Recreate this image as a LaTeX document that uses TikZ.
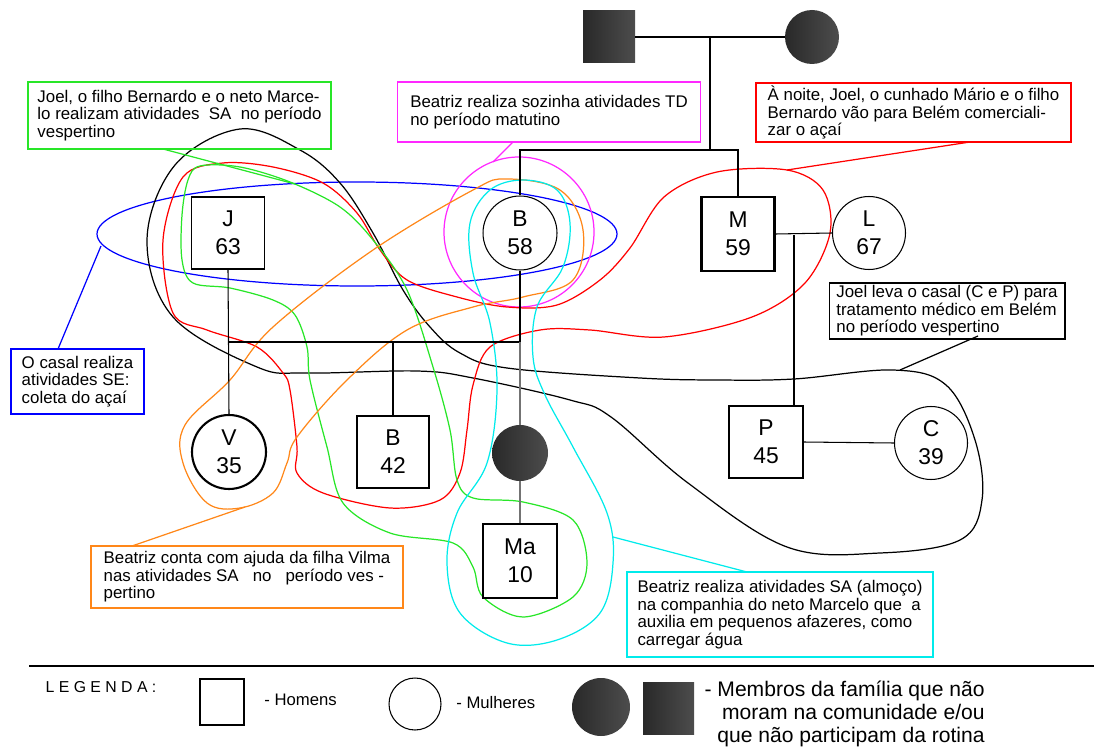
\documentclass[tikz,border=0pt]{standalone}
\usepackage{fontspec}
\setmainfont{Liberation Sans}
\newcommand\nodefnt{\fontsize{13}{16}\selectfont}
\newcommand\callfnt{\fontsize{9.6}{10}\selectfont}
\definecolor{cgreen}{RGB}{40,230,40}
\definecolor{cmag}{RGB}{255,40,255}
\definecolor{corange}{RGB}{255,135,25}
\definecolor{ccyan}{RGB}{0,235,235}
\definecolor{cblue}{RGB}{0,0,255}
\definecolor{cred}{RGB}{255,0,0}
\begin{document}
\begin{tikzpicture}[x=0.02cm,y=-0.02cm,
  male/.style={draw, line width=0.6pt, fill=white, inner sep=0pt, align=center, font=\nodefnt},
  female/.style={draw, circle, line width=0.6pt, fill=white, inner sep=0pt, align=center, font=\nodefnt},
  absent/.style={left color=black!84, right color=black!70, draw=none, inner sep=0pt},
  curve/.style={line width=0.7pt},
  callout/.style={draw, line width=0.8pt, align=left, inner sep=0pt, font=\callfnt},
  rel/.style={line width=0.6pt},
  grayrel/.style={line width=1.2pt, black!55},
  lgtext/.style={font=\fontsize{9.5}{11}\selectfont, inner sep=0pt}]
\useasboundingbox (0,0) rectangle (1094,749);

% ---- curves ----
\draw[cblue, curve] (357,234) ellipse [x radius=260, y radius=52];
\draw[cmag, curve] (519,232) circle [radius=75];
\draw[black, curve] plot[smooth cycle, tension=0.6] coordinates {
  (240,129) (300,150) (340,183) (373,233) (403,290) (430,327) (460,353) (507,368)
  (640,378) (717,380) (794,379) (893,370) (946,385) (975,440) (982,500) (960,540)
  (880,553) (787,547) (688,483) (611,417) (570,400) (473,378) (417,371) (307,373)
  (257,367) (173,317) (147,240) (175,165)};
\draw[cred, curve] plot[smooth cycle, tension=0.55] coordinates {
  (223,163) (273,167) (323,183) (357,213) (380,250) (407,280) (457,297) (507,307)
  (557,305) (600,280) (630,248) (664,197) (717,172) (787,170) (823,190) (830,233)
  (805,283) (752,317) (664,337) (590,330) (540,330) (490,347) (473,385) (467,430)
  (460,473) (440,500) (390,508) (323,493) (297,473) (297,447) (290,390) (283,373)
  (257,347) (207,330) (173,313) (163,240) (183,177)};
\draw[cgreen, curve] plot[smooth cycle, tension=0.55] coordinates {
  (200,166) (240,167) (290,182) (340,207) (373,240) (407,290) (433,367) (450,430)
  (457,480) (473,498) (523,502) (573,520) (587,563) (573,597) (523,617) (483,597)
  (473,567) (453,543) (390,533) (343,503) (327,447) (310,380) (307,347) (295,315)
  (273,300) (230,288) (193,283) (182,260) (182,215) (188,180)};
\draw[corange, curve] plot[smooth cycle, tension=0.6] coordinates {
  (507,179) (560,190) (583,230) (573,280) (523,297) (473,307) (407,330) (347,380)
  (297,437) (287,463) (273,493) (240,508) (207,503) (183,463) (185,425) (230,380)
  (273,327) (373,250) (473,190)};
\draw[ccyan, curve] plot[smooth cycle, tension=0.6] coordinates {
  (523,180) (557,190) (570,223) (563,267) (537,307) (533,357) (545,395) (573,447)
  (607,513) (613,563) (600,613) (557,640) (507,643) (460,613) (447,563) (457,513)
  (487,463) (497,390) (490,323) (473,273) (470,223) (490,190)};

% ---- family members ----
\node[absent, minimum size=1.04cm] (topsq) at (609,37) {};
\node[absent, circle, minimum size=1.08cm] (topci) at (812,37) {};
\node[male, minimum width=1.46cm, minimum height=1.44cm] (J) at (228,233) {J\\63};
\node[female, minimum size=1.48cm] (B58) at (520,233) {B\\58};
\node[male, line width=1.3pt, minimum width=1.46cm, minimum height=1.48cm] (M) at (738,234) {M\\59};
\node[female, minimum size=1.46cm] (L) at (869,233) {L\\67};
\node[male, minimum width=1.48cm, minimum height=1.44cm] (P) at (766,442) {P\\45};
\node[female, minimum size=1.46cm] (C) at (931,443) {C\\39};
\node[female, line width=1.2pt, minimum size=1.48cm] (V) at (229,452) {V\\35};
\node[male, minimum width=1.44cm, minimum height=1.44cm] (B42) at (393,452) {B\\42};
\node[male, minimum width=1.48cm, minimum height=1.48cm] (Ma) at (520,561) {Ma\\10};

% ---- relations ----
\coordinate (tm) at (710,37);
\coordinate (sib) at (710,150);
\coordinate (ml) at (794,235);
\coordinate (jb) at (228,342);
\draw[rel] (topsq.east) -- (topci.west);
\draw[rel] (tm) -- (sib);
\draw[rel] (B58.north) |- (sib) -| (M.north);
\draw[rel] (M.east) -- (L.west);
\draw[rel] (ml) -- (ml |- P.north);
\draw[rel] (P.east) -- (C.west);
\draw[rel] (J.south) -- (V.north);
\draw[rel] (B58.south) |- (jb);
\draw[rel] (B42.north) -- (B42.north |- jb);
\draw[grayrel] (B58.south |- jb) -- (Ma.north);
\node[absent, circle, minimum size=1.12cm] (fc) at (520,453) {};

% ---- callouts ----
\node[callout, draw=cgreen, minimum width=6.06cm, minimum height=1.34cm] (gbox) at (179.5,115.5)
  {Joel, o filho Bernardo e o neto Marce-\\lo realizam atividades\ \ SA\ \ no período\\vespertino};
\node[callout, draw=cmag, minimum width=6.06cm, minimum height=1.2cm] (mbox) at (549,112)
  {Beatriz realiza sozinha atividades TD\\no período matutino};
\node[callout, draw=cred, minimum width=6.3cm, minimum height=1.18cm] (rbox) at (913.5,112.5)
  {À noite, Joel, o cunhado Mário e o filho\\Bernardo vão para Belém comerciali-\\zar o açaí};
\node[callout, draw=cblue, minimum width=2.66cm, minimum height=1.3cm] (bbox) at (77.5,381.5)
  {O casal realiza\\atividades SE:\\coleta do açaí};
\node[callout, draw=black, line width=0.6pt, minimum width=4.72cm, minimum height=1.12cm] (kbox) at (947,311)
  {Joel leva o casal (C e P) para\\tratamento médico em Belém\\no período vespertino};
\node[callout, draw=corange, minimum width=6.24cm, minimum height=1.24cm] (obox) at (247,577)
  {Beatriz conta com ajuda da filha Vilma\\nas atividades SA\ \ \ no\ \ \ período ves -\\pertino};
\node[callout, draw=ccyan, minimum width=6.12cm, minimum height=1.7cm] (cbox) at (780,614.5)
  {Beatriz realiza atividades SA (almoço)\\na companhia do neto Marcelo que\ \ a\\auxilia em pequenos afazeres, como\\carregar água};

% ---- pointers ----
\coordinate (gs) at (163,149);  \coordinate (ge) at (295,184);
\coordinate (ms) at (513,142);  \coordinate (me) at (493,162);
\coordinate (rs) at (970,142);  \coordinate (re) at (787,170);
\coordinate (bs) at (58,349);   \coordinate (be) at (101,246);
\coordinate (ks) at (978,336);  \coordinate (ke) at (900,370);
\coordinate (os) at (132,546);  \coordinate (oe) at (245,507);
\coordinate (cs) at (747,572);  \coordinate (ce) at (613,537);
\draw[cgreen, curve] (gs) -- (ge);
\draw[cmag, curve] (ms) -- (me);
\draw[cred, curve] (rs) -- (re);
\draw[cblue, curve] (bs) -- (be);
\draw[black, curve] (ks) -- (ke);
\draw[corange, curve] (os) -- (oe);
\draw[ccyan, curve] (cs) -- (ce);

% ---- legend ----
\coordinate (sepL) at (29,666); \coordinate (sepR) at (1094,666);
\draw[line width=1.3pt] (sepL) -- (sepR);
\node[lgtext, font=\fontsize{9}{11}\selectfont] (lg) at (101,687) {L E G E N D A :};
\node[draw, line width=0.6pt, minimum width=0.88cm, minimum height=0.92cm, inner sep=0pt] (lsq) at (222,702) {};
\node[lgtext, anchor=west] (lh) at (264,700) {- Homens};
\node[draw, circle, line width=0.6pt, minimum size=1.04cm, inner sep=0pt] (lci) at (415,704) {};
\node[lgtext, anchor=west] (lm) at (456,703) {- Mulheres};
\node[absent, circle, minimum size=1.16cm] (lfc) at (601,707) {};
\node[absent, minimum width=1.02cm, minimum height=1.04cm] (lfs) at (668.5,708) {};
\node[inner sep=0pt, align=right, anchor=east, font=\fontsize{12}{13}\selectfont] (lt) at (985,714)
  {- Membros da família que não\\moram na comunidade e/ou\\que não participam da rotina};
\end{tikzpicture}
\end{document}
